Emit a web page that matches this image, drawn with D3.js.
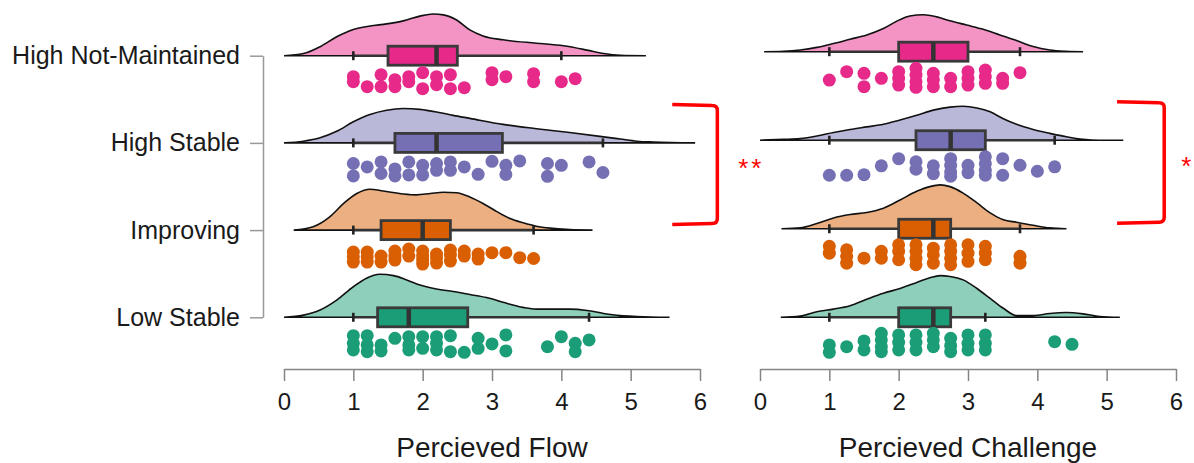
<!DOCTYPE html>
<html>
<head>
<meta charset="utf-8">
<script src="https://cdn.jsdelivr.net/npm/d3@7"></script>
<style>
  body { margin: 0; background: #fff; }
  text { font-family: "Liberation Sans", Arial, sans-serif; }
</style>
</head>
<body>
<script>
const groups = ["High Not-Maintained", "High Stable", "Improving", "Low Stable"];
const colors = ["#E7298A", "#7570B3", "#D95F02", "#1B9E77"];
const ticks = [0, 1, 2, 3, 4, 5, 6];
const titles = ["Percieved Flow", "Percieved Challenge"];
const signif = ["**", "*"];

// box stats per group: [lower whisker, q1, median, q3, upper whisker]
const flowBox = [[1.0, 1.5, 2.2, 2.5, 4.0], [1.0, 1.6, 2.2, 3.15, 4.6], [1.0, 1.4, 2.0, 2.4, 3.6], [1.0, 1.35, 1.8, 2.65, 4.4]];
const challBox = [[1.0, 2.0, 2.5, 3.0, 3.75], [1.0, 2.25, 2.75, 3.25, 4.25], [1.0, 2.0, 2.5, 2.75, 3.75], [1.0, 2.0, 2.5, 2.75, 3.25]];

// density outlines: [value, relative height]
const flowDensHNM = [[0,0],[.28,.05],[.52,.21],[.76,.44],[1.0,.61],[1.24,.69],[1.48,.74],[1.72,.81],[1.96,.92],[2.15,.97],[2.3,.95],[2.49,.83],[2.68,.60],[2.87,.46],[3.16,.37],[3.64,.29],[4.03,.23],[4.37,.13],[4.61,.05],[4.85,.01],[5.22,0]];
const flowDensHS = [[0,0],[.28,.04],[.52,.12],[.76,.27],[1.0,.49],[1.24,.66],[1.48,.76],[1.72,.80],[1.96,.78],[2.2,.72],[2.44,.64],[2.68,.57],[3.16,.43],[3.64,.33],[4.12,.24],[4.61,.14],[4.85,.09],[5.09,.04],[5.33,.02],[5.93,0]];
const flowDensImp = [[.14,0],[.42,.08],[.66,.31],[.86,.62],[1.05,.85],[1.24,.95],[1.43,.91],[1.72,.84],[1.91,.82],[2.11,.85],[2.3,.88],[2.49,.87],[2.68,.77],[2.87,.62],[3.07,.43],[3.26,.27],[3.45,.17],[3.64,.09],[3.88,.04],[4.12,.01],[4.45,0]];
const flowDensLS = [[0,0],[.28,.05],[.52,.17],[.76,.40],[1.0,.71],[1.19,.91],[1.38,1.0],[1.58,.97],[1.77,.87],[1.96,.75],[2.2,.66],[2.44,.60],[2.68,.53],[2.92,.46],[3.16,.35],[3.45,.23],[3.64,.19],[4.12,.19],[4.37,.16],[4.61,.09],[4.85,.04],[5.09,.02],[5.56,0]];
const challDensHNM = [[.06,0],[.34,.01],[.58,.04],[.82,.10],[1.06,.19],[1.3,.29],[1.54,.39],[1.78,.54],[2.01,.74],[2.16,.83],[2.36,.86],[2.55,.81],[2.74,.72],[2.98,.62],[3.22,.52],[3.46,.39],[3.7,.26],[3.94,.12],[4.18,.04],[4.42,.01],[4.66,0]];
const challDensHS = [[0,0],[.34,.02],[.58,.04],[.82,.10],[1.06,.18],[1.3,.25],[1.54,.31],[1.78,.37],[2.02,.47],[2.26,.58],[2.5,.70],[2.74,.77],[2.93,.79],[3.13,.75],[3.32,.66],[3.51,.50],[3.7,.37],[3.94,.25],[4.18,.16],[4.42,.08],[4.66,.02],[4.9,0],[5.24,0]];
const challDensImp = [[.31,0],[.58,.02],[.82,.12],[1.06,.25],[1.3,.33],[1.54,.38],[1.78,.48],[2.02,.67],[2.26,.87],[2.45,.98],[2.6,1.02],[2.74,.98],[2.93,.83],[3.13,.60],[3.32,.37],[3.51,.21],[3.7,.15],[3.94,.08],[4.18,.02],[4.42,0]];
const challDensLS = [[.30,0],[.58,.03],[.82,.13],[1.06,.19],[1.3,.27],[1.54,.42],[1.78,.56],[2.02,.67],[2.26,.81],[2.45,.92],[2.6,.97],[2.74,.95],[2.93,.87],[3.13,.67],[3.32,.44],[3.51,.21],[3.7,.04],[3.94,.04],[4.18,.09],[4.42,.11],[4.66,.08],[4.9,.02],[5.19,0]];

// raw points: [value, jitter 0..1]
const flowDotsHNM = [[1.0,.25],[1.0,.5],[1.2,.75],[1.4,.15],[1.4,.75],[1.6,.4],[1.6,.75],[1.8,.25],[1.8,.5],[2.0,.05],[2.0,.85],[2.2,.25],[2.2,.65],[2.4,.15],[2.4,.85],[2.6,.8],[3.0,.05],[3.0,.4],[3.2,.25],[3.6,.1],[3.6,.5],[4.0,.5],[4.2,.35]];
const flowDotsHS = [[1.0,.23],[1.0,.85],[1.2,.4],[1.4,.15],[1.4,.73],[1.6,.5],[1.6,.85],[1.8,.15],[1.8,.8],[2.0,.32],[2.0,.8],[2.2,.23],[2.2,.57],[2.4,.15],[2.4,.57],[2.6,.4],[2.8,.77],[3.0,.12],[3.2,.32],[3.2,.78],[3.4,.1],[3.8,.23],[3.8,.87],[4.0,.32],[4.4,.15],[4.6,.68]];
const flowDotsImp = [[1.0,.3],[1.0,.55],[1.0,.8],[1.2,.3],[1.2,.55],[1.2,.8],[1.4,.5],[1.4,.8],[1.6,.25],[1.6,.5],[1.6,.7],[1.8,.15],[1.8,.5],[2.0,.25],[2.0,.5],[2.0,.7],[2.0,.9],[2.2,.4],[2.2,.6],[2.2,.85],[2.4,.2],[2.4,.45],[2.4,.75],[2.6,.25],[2.6,.5],[2.8,.4],[2.8,.65],[3.0,.33],[3.2,.33],[3.4,.58],[3.6,.62]];
const flowDotsLS = [[1.0,.12],[1.0,.5],[1.0,.83],[1.2,.12],[1.2,.58],[1.2,.92],[1.4,.58],[1.4,.88],[1.6,.25],[1.8,.17],[1.8,.58],[1.8,.83],[2.0,.17],[2.0,.75],[2.2,.17],[2.2,.5],[2.2,.83],[2.4,.12],[2.4,.92],[2.6,.95],[2.8,.25],[2.8,.75],[3.0,.53],[3.2,.08],[3.2,.88],[3.8,.67],[4.0,.17],[4.2,.5],[4.2,.92],[4.4,.33]];
const challDotsHNM = [[1.0,.62],[1.25,.2],[1.5,.28],[1.5,.95],[1.75,.53],[2.0,.2],[2.0,.53],[2.0,.87],[2.25,.03],[2.25,.37],[2.25,.7],[2.25,.98],[2.5,.28],[2.5,.62],[2.5,.95],[2.75,.53],[2.75,.95],[3.0,.2],[3.0,.53],[3.0,.87],[3.25,.12],[3.25,.45],[3.25,.78],[3.5,.53],[3.5,.78],[3.75,.25]];
const challDotsHS = [[1.0,.95],[1.25,.95],[1.5,.92],[1.75,.48],[2.0,.12],[2.25,.28],[2.25,.65],[2.5,.48],[2.5,.87],[2.75,.12],[2.75,.45],[2.75,.78],[2.75,1.0],[3.0,.45],[3.0,.82],[3.25,.03],[3.25,.37],[3.25,.7],[3.25,.95],[3.5,.12],[3.5,.95],[3.75,.45],[4.0,.75],[4.25,.53]];
const challDotsImp = [[1.0,.08],[1.0,.42],[1.25,.25],[1.25,.58],[1.25,.92],[1.5,.67],[1.75,.33],[1.75,.67],[2.0,0],[2.0,.33],[2.0,.75],[2.25,0],[2.25,.33],[2.25,.67],[2.25,1.0],[2.5,.17],[2.5,.5],[2.5,.92],[2.75,0],[2.75,.33],[2.75,.67],[2.75,1.0],[3.0,0],[3.0,.42],[3.0,.83],[3.25,.08],[3.25,.42],[3.25,.75],[3.75,.58],[3.75,.92]];
const challDotsLS = [[1.0,.58],[1.0,.95],[1.25,.67],[1.5,.38],[1.5,.83],[1.75,0],[1.75,.33],[1.75,.67],[1.75,.92],[2.0,.08],[2.0,.45],[2.0,.83],[2.25,.08],[2.25,.45],[2.25,.83],[2.5,0],[2.5,.33],[2.5,.67],[2.75,.25],[2.75,.62],[2.75,.92],[3.0,.08],[3.0,.5],[3.0,.83],[3.25,.08],[3.25,.5],[3.25,.83],[4.25,.42],[4.5,.55]];

const width = 1194, height = 463;
const svg = d3.select("body").append("svg")
    .attr("width", width).attr("height", height);

const panels = [
  { x: d3.scaleLinear().domain([0, 6]).range([284, 700]),
    y: d3.scalePoint().domain(groups).range([55.7, 317.3]),
    box: flowBox, dens: [flowDensHNM, flowDensHS, flowDensImp, flowDensLS],
    dots: [flowDotsHNM, flowDotsHS, flowDotsImp, flowDotsLS],
    bracket: [5.6, 6.25], star: 6.74 },
  { x: d3.scaleLinear().domain([0, 6]).range([760, 1176]),
    y: d3.scalePoint().domain(groups).range([51.7, 317.3]),
    box: challBox, dens: [challDensHNM, challDensHS, challDensImp, challDensLS],
    dots: [challDotsHNM, challDotsHS, challDotsImp, challDotsLS],
    bracket: [5.15, 5.83], star: 6.17 }
];

const dens = d3.scaleLinear().domain([0, 1]).range([0, 43]);
const jit = d3.scaleLinear().domain([0, 1]).range([16, 36]);
const axisY = 369;

panels.forEach(function(p, pi) {
  const g = svg.append("g");

  groups.forEach(function(name, i) {
    const base = p.y(name);
    const col = colors[i];
    const light = d3.interpolateRgb(col, "#fff")(0.5);

    // half violin
    const area = d3.area()
        .x(function(d) { return p.x(d[0]); })
        .y0(base)
        .y1(function(d) { return base - dens(d[1]); })
        .curve(d3.curveMonotoneX);
    g.append("path").datum(p.dens[i])
        .attr("d", area)
        .attr("fill", light)
        .attr("stroke", "#111")
        .attr("stroke-width", 1.6);

    // whiskers
    const b = p.box[i];
    g.append("line")
        .attr("x1", p.x(b[0])).attr("x2", p.x(b[4]))
        .attr("y1", base).attr("y2", base)
        .attr("stroke", "#333").attr("stroke-width", 2.6);
    [b[0], b[4]].forEach(function(v) {
      g.append("line")
          .attr("x1", p.x(v)).attr("x2", p.x(v))
          .attr("y1", base - 4.5).attr("y2", base + 4.5)
          .attr("stroke", "#222").attr("stroke-width", 2.6);
    });

    // box
    g.append("rect")
        .attr("x", p.x(b[1])).attr("y", base - 9.5)
        .attr("width", p.x(b[3]) - p.x(b[1])).attr("height", 19)
        .attr("fill", col)
        .attr("stroke", "#3a3a3a").attr("stroke-width", 2.8);
    g.append("line")
        .attr("x1", p.x(b[2])).attr("x2", p.x(b[2]))
        .attr("y1", base - 9.5).attr("y2", base + 9.5)
        .attr("stroke", "#333").attr("stroke-width", 4.5);

    // raw points
    g.append("g").selectAll("circle").data(p.dots[i]).enter().append("circle")
        .attr("cx", function(d) { return p.x(d[0]); })
        .attr("cy", function(d) { return base + jit(d[1]); })
        .attr("r", 6.5)
        .attr("fill", col);
  });

  // x axis
  const ax = g.append("g")
      .attr("transform", "translate(0," + axisY + ")")
      .call(d3.axisBottom(p.x).tickValues(ticks).tickFormat(d3.format("d"))
        .tickSize(12).tickSizeOuter(0).tickPadding(12));
  ax.select(".domain").attr("stroke", "#858585").attr("stroke-width", 1.5);
  ax.selectAll(".tick line").attr("stroke", "#858585").attr("stroke-width", 1.5);
  ax.selectAll(".tick text").attr("fill", "#1a1a1a")
      .style("font-size", "24px").style("font-family", "Liberation Sans, Arial, sans-serif");

  g.append("text")
      .attr("x", (p.x(0) + p.x(6)) / 2).attr("y", 457)
      .attr("text-anchor", "middle")
      .attr("fill", "#1a1a1a")
      .style("font-size", "28px")
      .text(titles[pi]);

  // significance bracket between High Stable and Improving
  const x0 = p.x(p.bracket[0]), x1 = p.x(p.bracket[1]);
  const top = p.y(groups[1]) - 37.5, bot = p.y(groups[2]) - 6.5;
  g.append("path")
      .attr("d", "M" + x0 + "," + (top - 1) + " L" + (x1 - 5) + "," + top +
        " Q" + x1 + "," + top + " " + x1 + "," + (top + 5) +
        " L" + x1 + "," + (bot - 5) + " Q" + x1 + "," + bot + " " + (x1 - 5) + "," + bot +
        " L" + x0 + "," + (bot + 1))
      .attr("fill", "none").attr("stroke", "#f00").attr("stroke-width", 3.5);
  g.append("text")
      .attr("x", p.x(p.star)).attr("y", (top + bot) / 2 + 12)
      .attr("text-anchor", "middle")
      .attr("fill", "#f00")
      .style("font-size", "26px")
      .style("letter-spacing", "3px")
      .text(signif[pi]);
});

// category axis
const yAx = svg.append("g")
    .attr("transform", "translate(263,0)")
    .call(d3.axisLeft(panels[0].y).tickSize(13).tickSizeOuter(0).tickPadding(10));
yAx.select(".domain").attr("stroke", "#999").attr("stroke-width", 1.5);
yAx.selectAll(".tick line").attr("stroke", "#999").attr("stroke-width", 1.5);
yAx.selectAll(".tick text").attr("fill", "#1a1a1a")
    .style("font-size", "25px").style("font-family", "Liberation Sans, Arial, sans-serif");
</script>
</body>
</html>
